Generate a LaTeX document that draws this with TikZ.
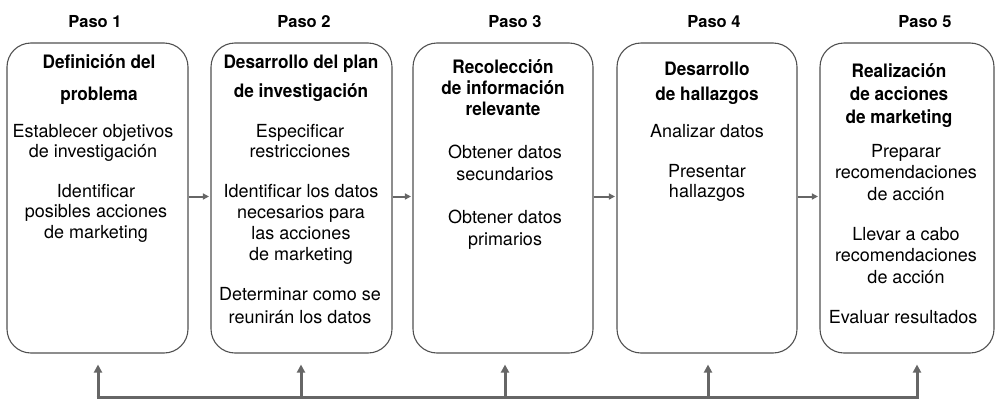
\documentclass[tikz,border=0pt]{standalone}
\usepackage{fontspec}
\setmainfont{TeX Gyre Heros}
\newfontfamily\headfont{TeX Gyre Heros}[FakeStretch=0.93]
\usetikzlibrary{arrows.meta}
\definecolor{boxline}{HTML}{505050}
\definecolor{arrowgray}{HTML}{666666}
\tikzset{
  stepbox/.style={draw=boxline, line width=1.1pt, rounded corners=24pt,
    minimum height=310pt, inner sep=0pt},
  pasolabel/.style={font=\bfseries\fontsize{16.5}{18}\selectfont, anchor=base, inner sep=0pt},
  head/.style={font=\headfont\bfseries\fontsize{18.5}{#1}\selectfont, align=center, anchor=base, inner sep=0pt},
  body/.style={font=\fontsize{18}{#1}\selectfont, align=center, anchor=base, inner sep=0pt},
  link/.style={draw=arrowgray, line width=2pt, -{Triangle[length=6pt,width=6pt]}},
  fbline/.style={draw=arrowgray, line width=3pt},
  fbarrow/.style={draw=arrowgray, line width=3pt, -{Triangle[length=8pt,width=8pt]}, shorten >=11pt}
}
\begin{document}
\begin{tikzpicture}[x=1pt,y=-1pt]
\useasboundingbox (0,0) rectangle (995,399);

% boxes
\node[stepbox, minimum width=181pt] (b1) at (97.5,198) {};
\node[stepbox, minimum width=181pt] (b2) at (301.5,198) {};
\node[stepbox, minimum width=180pt] (b3) at (503,198) {};
\node[stepbox, minimum width=180pt] (b4) at (707,198) {};
\node[stepbox, minimum width=174pt] (b5) at (907,198) {};

% step labels
\node[pasolabel] (p1) at (95,27) {Paso 1};
\node[pasolabel] (p2) at (304,27) {Paso 2};
\node[pasolabel] (p3) at (515,27) {Paso 3};
\node[pasolabel] (p4) at (714,27) {Paso 4};
\node[pasolabel] (p5) at (925,27) {Paso 5};

% box 1 (positions are baselines of the last line)
\node[head=32] (h1) at (99,100) {Definición del\\problema};
\node[body=20] (t11) at (93,157) {Establecer objetivos\\de investigación};
\node[body=20.5] (t12) at (96,238) {Identificar\\posibles acciones\\de marketing};

% box 2
\node[head=29] (h2) at (301,97) {Desarrollo del plan\\de investigación};
\node[body=20] (t21) at (300,157) {Especificar\\restricciones};
\node[body=21] (t22) at (301,260) {Identificar los datos\\necesarios para\\las acciones\\de marketing};
\node[body=23] (t23) at (300,323) {Determinar como se\\reunirán los datos};

% box 3
\node[head=21] (h3) at (503,115) {Recolección\\de información\\relevante};
\node[body=22] (t31) at (505,180) {Obtener datos\\secundarios};
\node[body=22] (t32) at (505,245) {Obtener datos\\primarios};

% box 4
\node[head=25] (h4) at (707,100) {Desarrollo\\de hallazgos};
\node[body=20] (t41) at (707,137) {Analizar datos};
\node[body=20] (t42) at (707,197) {Presentar\\hallazgos};

% box 5
\node[head=23] (h5) at (899,123) {Realización\\de acciones\\de marketing};
\node[body=21.5] (t51) at (906,200) {Preparar\\recomendaciones\\de acción};
\node[body=21.5] (t52) at (906,283) {Llevar a cabo\\recomendaciones\\de acción};
\node[body=20] (t53) at (903,323) {Evaluar resultados};

% forward links
\draw[link] ([yshift=1.5pt]b1.east) -- ([yshift=1.5pt,xshift=-1.5pt]b2.west);
\draw[link] ([yshift=1.5pt]b2.east) -- ([yshift=1.5pt,xshift=-1.5pt]b3.west);
\draw[link] ([yshift=1.5pt]b3.east) -- ([yshift=1.5pt,xshift=-1.5pt]b4.west);
\draw[link] ([yshift=1.5pt]b4.east) -- ([yshift=1.5pt,xshift=-1.5pt]b5.west);

% feedback loop
\coordinate (f1) at (98,397);
\coordinate (f2) at (301,397);
\coordinate (f3) at (505,397);
\coordinate (f4) at (708,397);
\coordinate (f5) at (917,397);
\draw[fbline] ([xshift=-1.5pt]f1) -- ([xshift=1.5pt]f5);
\draw[fbarrow] (f1) -- (f1 |- b1.south);
\draw[fbarrow] (f2) -- (f2 |- b2.south);
\draw[fbarrow] (f3) -- (f3 |- b3.south);
\draw[fbarrow] (f4) -- (f4 |- b4.south);
\draw[fbarrow] (f5) -- (f5 |- b5.south);
\end{tikzpicture}
\end{document}
